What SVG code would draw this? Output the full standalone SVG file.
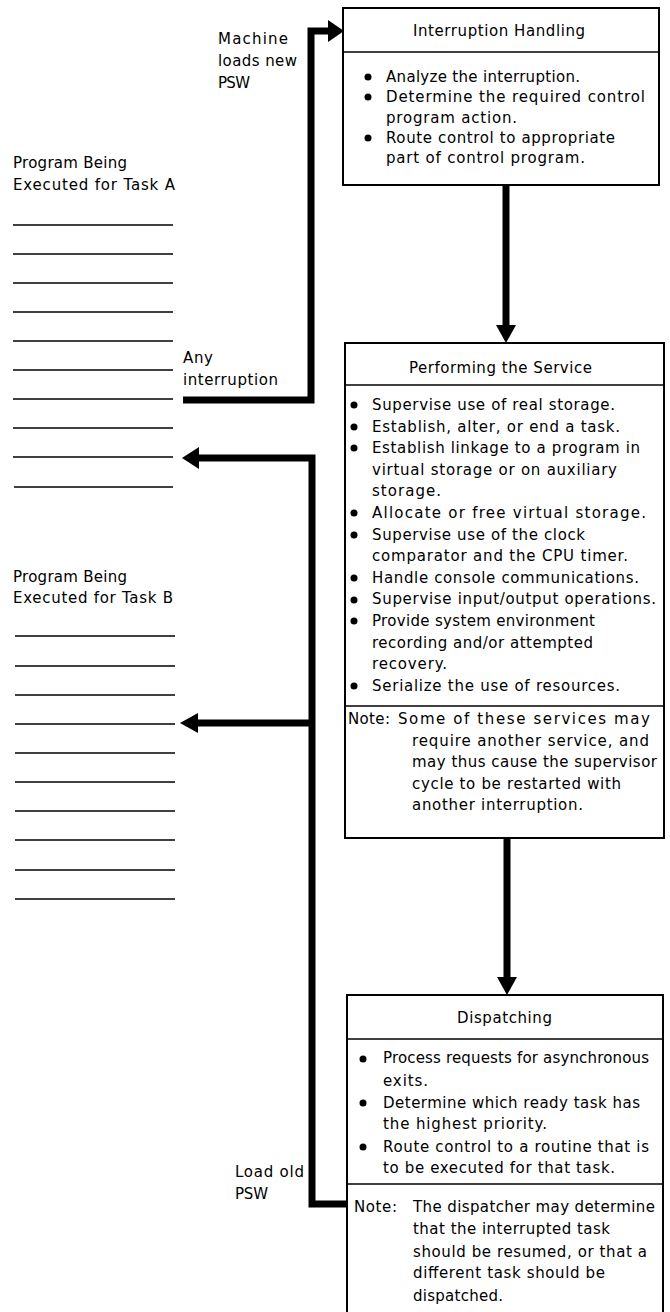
<svg xmlns="http://www.w3.org/2000/svg" width="670" height="1312" viewBox="0 0 670 1312">
  <style>
    text { font-family: "DejaVu Sans", "Liberation Sans", sans-serif; font-size: 15px; fill: #000; }
    .box { fill: #fff; stroke: #000; stroke-width: 2; }
    .div { stroke: #000; stroke-width: 1.5; }
    .prog { stroke: #000; stroke-width: 1.5; }
    .flow { fill: none; stroke: #000; stroke-width: 7; stroke-linejoin: miter; }
    .head { fill: #000; }
    .dot { fill: #000; }
  </style>

  <!-- Program listing for task A -->
  <g id="task-a">
    <text x="13" y="168" textLength="114" lengthAdjust="spacing">Program Being</text>
    <text x="13" y="190" textLength="162" lengthAdjust="spacing">Executed for Task A</text>
    <g class="prog">
      <line x1="13" y1="225" x2="173" y2="225"/>
      <line x1="13" y1="254" x2="173" y2="254"/>
      <line x1="13" y1="283" x2="173" y2="283"/>
      <line x1="13" y1="312" x2="173" y2="312"/>
      <line x1="13" y1="341" x2="173" y2="341"/>
      <line x1="13" y1="370" x2="173" y2="370"/>
      <line x1="13" y1="399" x2="173" y2="399"/>
      <line x1="13" y1="428" x2="173" y2="428"/>
      <line x1="13" y1="457" x2="173" y2="457"/>
      <line x1="14" y1="487" x2="173" y2="487"/>
    </g>
  </g>

  <!-- Program listing for task B -->
  <g id="task-b">
    <text x="13" y="582" textLength="114" lengthAdjust="spacing">Program Being</text>
    <text x="13" y="603" textLength="160" lengthAdjust="spacing">Executed for Task B</text>
    <g class="prog">
      <line x1="15" y1="636" x2="175" y2="636"/>
      <line x1="15" y1="666" x2="175" y2="666"/>
      <line x1="15" y1="695" x2="175" y2="695"/>
      <line x1="15" y1="724" x2="175" y2="724"/>
      <line x1="15" y1="753" x2="175" y2="753"/>
      <line x1="15" y1="782" x2="175" y2="782"/>
      <line x1="15" y1="811" x2="175" y2="811"/>
      <line x1="15" y1="840" x2="175" y2="840"/>
      <line x1="15" y1="870" x2="175" y2="870"/>
      <line x1="15" y1="899" x2="175" y2="899"/>
    </g>
  </g>

  <!-- Connectors -->
  <g id="connectors">
    <!-- interruption: task A to interruption handler -->
    <polyline class="flow" points="183,400 311,400 311,31 330,31"/>
    <polygon class="head" points="328,20 344,31 328,42"/>
    <!-- interruption handling to service -->
    <line class="flow" x1="506" y1="185" x2="506" y2="328"/>
    <polygon class="head" points="496,325 516,325 506,343"/>
    <!-- service to dispatching -->
    <line class="flow" x1="507" y1="838" x2="507" y2="980"/>
    <polygon class="head" points="497,977 517,977 507,995"/>
    <!-- dispatcher loads old PSW: back to task A or task B -->
    <polyline class="flow" points="347,1204 312,1204 312,458 196,458"/>
    <polygon class="head" points="182,458 199,447 199,469"/>
    <line class="flow" x1="312" y1="723" x2="195" y2="723"/>
    <polygon class="head" points="180,723 198,713 198,733"/>
  </g>

  <!-- Connector labels -->
  <g id="labels">
    <text x="218" y="44" textLength="70" lengthAdjust="spacing">Machine</text>
    <text x="218" y="66" textLength="79" lengthAdjust="spacing">loads new</text>
    <text x="218" y="88" textLength="32" lengthAdjust="spacing">PSW</text>
    <text x="183" y="363" textLength="30" lengthAdjust="spacing">Any</text>
    <text x="183" y="385" textLength="95" lengthAdjust="spacing">interruption</text>
    <text x="235" y="1177" textLength="69" lengthAdjust="spacing">Load old</text>
    <text x="235" y="1199" textLength="33" lengthAdjust="spacing">PSW</text>
  </g>

  <!-- Interruption handling -->
  <g id="interruption-handling">
    <rect class="box" x="343" y="8" width="316" height="177"/>
    <line class="div" x1="343" y1="52" x2="659" y2="52"/>
    <text x="413" y="36" textLength="172" lengthAdjust="spacing">Interruption Handling</text>
    <circle class="dot" cx="368" cy="77" r="3.5"/>
    <text x="386" y="82" textLength="194" lengthAdjust="spacing">Analyze the interruption.</text>
    <circle class="dot" cx="368" cy="97" r="3.5"/>
    <text x="386" y="102" textLength="259" lengthAdjust="spacing">Determine the required control</text>
    <text x="386" y="123" textLength="131" lengthAdjust="spacing">program action.</text>
    <circle class="dot" cx="368" cy="138" r="3.5"/>
    <text x="386" y="143" textLength="229" lengthAdjust="spacing">Route control to appropriate</text>
    <text x="386" y="163" textLength="199" lengthAdjust="spacing">part of control program.</text>
  </g>

  <!-- Performing the service -->
  <g id="performing-service">
    <rect class="box" x="345" y="343" width="319" height="495"/>
    <line class="div" x1="345" y1="385" x2="664" y2="385"/>
    <line class="div" x1="345" y1="706" x2="664" y2="706"/>
    <text x="409" y="373" textLength="183" lengthAdjust="spacing">Performing the Service</text>
    <circle class="dot" cx="354" cy="405" r="3.5"/>
    <text x="372" y="410" textLength="243" lengthAdjust="spacing">Supervise use of real storage.</text>
    <circle class="dot" cx="354" cy="427" r="3.5"/>
    <text x="372" y="431.6" textLength="248" lengthAdjust="spacing">Establish, alter, or end a task.</text>
    <circle class="dot" cx="354" cy="448" r="3.5"/>
    <text x="372" y="453.2" textLength="268" lengthAdjust="spacing">Establish linkage to a program in</text>
    <text x="372" y="474.8" textLength="245" lengthAdjust="spacing">virtual storage or on auxiliary</text>
    <text x="372" y="496.4" textLength="69" lengthAdjust="spacing">storage.</text>
    <circle class="dot" cx="354" cy="513" r="3.5"/>
    <text x="372" y="518" textLength="274" lengthAdjust="spacing">Allocate or free virtual storage.</text>
    <circle class="dot" cx="354" cy="535" r="3.5"/>
    <text x="372" y="539.6" textLength="213" lengthAdjust="spacing">Supervise use of the clock</text>
    <text x="372" y="561.2" textLength="256" lengthAdjust="spacing">comparator and the CPU timer.</text>
    <circle class="dot" cx="354" cy="578" r="3.5"/>
    <text x="372" y="582.8" textLength="267" lengthAdjust="spacing">Handle console communications.</text>
    <circle class="dot" cx="354" cy="600" r="3.5"/>
    <text x="372" y="604.4" textLength="284" lengthAdjust="spacing">Supervise input/output operations.</text>
    <circle class="dot" cx="354" cy="621" r="3.5"/>
    <text x="372" y="626" textLength="223" lengthAdjust="spacing">Provide system environment</text>
    <text x="372" y="647.6" textLength="221" lengthAdjust="spacing">recording and/or attempted</text>
    <text x="372" y="669.2" textLength="75" lengthAdjust="spacing">recovery.</text>
    <circle class="dot" cx="354" cy="686" r="3.5"/>
    <text x="372" y="690.8" textLength="248" lengthAdjust="spacing">Serialize the use of resources.</text>
    <text x="348" y="724" textLength="42" lengthAdjust="spacing">Note:</text>
    <text x="398" y="724" textLength="252" lengthAdjust="spacing">Some of these services may</text>
    <text x="412" y="745.6" textLength="237" lengthAdjust="spacing">require another service, and</text>
    <text x="412" y="767.2" textLength="245" lengthAdjust="spacing">may thus cause the supervisor</text>
    <text x="412" y="788.8" textLength="209" lengthAdjust="spacing">cycle to be restarted with</text>
    <text x="412" y="810.4" textLength="171" lengthAdjust="spacing">another interruption.</text>
  </g>

  <!-- Dispatching -->
  <g id="dispatching">
    <rect class="box" x="347" y="995" width="316" height="330"/>
    <line class="div" x1="347" y1="1039" x2="663" y2="1039"/>
    <line class="div" x1="347" y1="1184" x2="663" y2="1184"/>
    <text x="457" y="1023" textLength="95" lengthAdjust="spacing">Dispatching</text>
    <circle class="dot" cx="363" cy="1059" r="3.5"/>
    <text x="383" y="1063" textLength="266" lengthAdjust="spacing">Process requests for asynchronous</text>
    <text x="383" y="1086" textLength="45" lengthAdjust="spacing">exits.</text>
    <circle class="dot" cx="363" cy="1103" r="3.5"/>
    <text x="383" y="1108" textLength="257" lengthAdjust="spacing">Determine which ready task has</text>
    <text x="383" y="1129" textLength="164" lengthAdjust="spacing">the highest priority.</text>
    <circle class="dot" cx="363" cy="1147" r="3.5"/>
    <text x="383" y="1152" textLength="266" lengthAdjust="spacing">Route control to a routine that is</text>
    <text x="383" y="1173" textLength="232" lengthAdjust="spacing">to be executed for that task.</text>
    <text x="354" y="1212" textLength="43" lengthAdjust="spacing">Note:</text>
    <text x="413" y="1212" textLength="242" lengthAdjust="spacing">The dispatcher may determine</text>
    <text x="413" y="1234" textLength="197" lengthAdjust="spacing">that the interrupted task</text>
    <text x="413" y="1257" textLength="234" lengthAdjust="spacing">should be resumed, or that a</text>
    <text x="413" y="1278" textLength="192" lengthAdjust="spacing">different task should be</text>
    <text x="413" y="1301" textLength="90" lengthAdjust="spacing">dispatched.</text>
  </g>
</svg>
